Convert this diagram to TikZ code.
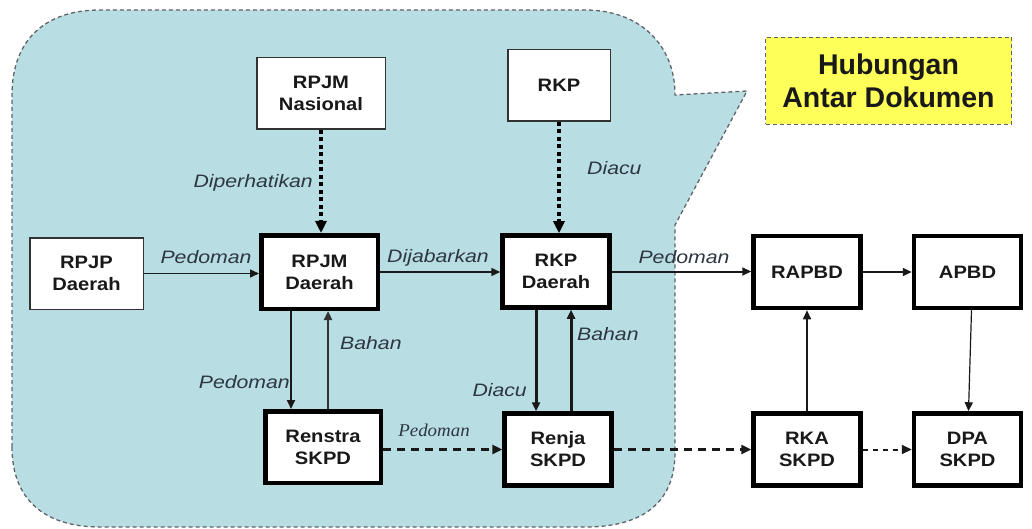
\documentclass[tikz,border=0pt]{standalone}
\usepackage{fontspec}
\setmainfont{Liberation Sans}
\newfontfamily\boxfont{Liberation Sans}[FakeStretch=1.12]
\newfontfamily\lblfont{Liberation Sans}[FakeStretch=1.18]
\newfontfamily\serfont{Liberation Serif}[FakeStretch=1.05]
\usetikzlibrary{arrows.meta,calc}
\definecolor{teal}{RGB}{184,221,226}
\definecolor{edgegray}{RGB}{95,100,105}
\definecolor{boxline}{RGB}{50,50,50}
\definecolor{txt}{RGB}{25,25,25}
\definecolor{lblc}{RGB}{45,55,65}
\definecolor{hyellow}{RGB}{255,255,90}
\tikzset{
  thinbox/.style={draw=boxline, line width=1.5pt, fill=white, inner sep=0pt,
    font=\boxfont\bfseries\fontsize{18}{22}\selectfont, align=center, text=txt},
  thickbox/.style={draw=black, line width=4.5pt, fill=white, inner sep=0pt,
    font=\boxfont\bfseries\fontsize{18}{22}\selectfont, align=center, text=txt,
    minimum width=107pt, minimum height=72pt},
  lbl/.style={font=\lblfont\itshape\fontsize{18}{22}\selectfont, text=lblc, inner sep=0pt},
  arr/.style={-{Triangle[length=9pt,width=8pt]}, line width=1.5pt, draw=black!90},
  dotarr/.style={-{Triangle[length=12pt,width=11pt]}, line width=4pt, draw=black,
    dash pattern=on 4pt off 3.5pt},
  dsharr/.style={-{Triangle[length=10pt,width=9pt]}, line width=2.5pt, draw=black!90,
    dash pattern=on 8pt off 6pt},
}
\begin{document}
\begin{tikzpicture}[x=1pt,y=-1pt]
\useasboundingbox (0,0) rectangle (1032,529);
% callout background
\path[fill=teal, draw=edgegray, line width=1.3pt, dash pattern=on 4pt off 3pt]
  (12,447) -- (12,95) .. controls (12,40) and (45,10) .. (100,10)
  -- (585,10) .. controls (640,10) and (675,45) .. (675,95)
  -- (747,91) -- (675,225) -- (675,452)
  .. controls (675,505) and (640,527) .. (585,527)
  -- (100,527) .. controls (45,527) and (12,500) .. (12,447) -- cycle;
% title
\node[draw=edgegray, line width=1.3pt, dash pattern=on 4pt off 3pt, fill=hyellow,
  minimum width=246pt, minimum height=87pt, inner sep=0pt, align=center, text=txt,
  font=\bfseries\fontsize{28.5}{33}\selectfont] (title) at (888.5,81) {Hubungan\\Antar Dokumen};
% thin boxes
\node[thinbox, minimum width=128.5pt, minimum height=71.5pt] (RPJMN) at (321,93.5) {RPJM\\Nasional};
\node[thinbox, minimum width=102.5pt, minimum height=71.5pt] (RKP) at (559,85.5) {RKP};
\node[thinbox, minimum width=113.5pt, minimum height=71.5pt] (RPJP) at (86.5,273.5) {RPJP\\Daerah};
% thick boxes
\node[thickbox, minimum width=116.5pt, minimum height=73.5pt] (RPJMD) at (319.5,272) {RPJM\\Daerah};
\node[thickbox] (RKPD) at (556,271.5) {RKP\\Daerah};
\node[thickbox] (RAPBD) at (807,272) {RAPBD};
\node[thickbox] (APBD) at (967.5,272) {APBD};
\node[thickbox, minimum width=115.5pt, minimum height=71.5pt] (Renstra) at (323,447) {Renstra\\SKPD};
\node[thickbox] (Renja) at (558,449.5) {Renja\\SKPD};
\node[thickbox] (RKA) at (807,449.5) {RKA\\SKPD};
\node[thickbox] (DPA) at (967.5,449.5) {DPA\\SKPD};
% helper x positions
\coordinate (xa) at (291,0);
\coordinate (xb) at (328,0);
\coordinate (xc) at (536,0);
\coordinate (xd) at (571,0);
% dotted arrows
\draw[dotarr] (RPJMN.south) -- (RPJMN.south |- RPJMD.north);
\draw[dotarr] (RKP.south) -- (RKP.south |- RKPD.north);
% horizontal arrows
\draw[arr] (RPJP.east) -- (RPJP.east -| RPJMD.west);
\draw[arr] (RPJMD.east) -- (RPJMD.east -| RKPD.west);
\draw[arr, line width=2pt] (RKPD.east) -- (RKPD.east -| RAPBD.west);
\draw[arr] (RAPBD.east) -- (APBD.west);
% vertical arrows
\draw[arr, line width=2pt] (RPJMD.south -| xa) -- (Renstra.north -| xa);
\draw[arr, line width=2.5pt, draw=black!80] (Renstra.north -| xb) -- (RPJMD.south -| xb);
\draw[arr, line width=3pt] (RKPD.south -| xc) -- (Renja.north -| xc);
\draw[arr, line width=3pt] (Renja.north -| xd) -- (RKPD.south -| xd);
\draw[arr] (RKA.north) -- (RAPBD.south);
\draw[arr, line width=1.2pt] ($(APBD.south)+(4,0)$) -- ($(DPA.north)+(1,0)$);
% dashed arrows
\draw[dsharr] (Renstra.east |- Renja.west) -- (Renja.west);
\draw[dsharr] (Renja.east) -- (RKA.west);
\draw[dsharr, line width=2pt, dash pattern=on 5pt off 5pt] (RKA.east) -- (DPA.west);
% labels
\node[lbl, anchor=east] (l1) at (313,183) {Diperhatikan};
\node[lbl, anchor=west] (l2) at (587,168) {Diacu};
\node[lbl] (l3) at (206,257) {Pedoman};
\node[lbl] (l4) at (438,258) {Dijabarkan};
\node[lbl] (l5) at (684,257) {Pedoman};
\node[lbl, anchor=east] (l6) at (290,382) {Pedoman};
\node[lbl, anchor=west] (l7) at (340,343) {Bahan};
\node[font=\serfont\itshape\fontsize{18}{22}\selectfont, text=lblc, inner sep=0pt] (l8) at (434,430) {Pedoman};
\node[lbl, anchor=east] (l9) at (527,390) {Diacu};
\node[lbl, anchor=west] (l10) at (577,334) {Bahan};
\end{tikzpicture}
\end{document}
